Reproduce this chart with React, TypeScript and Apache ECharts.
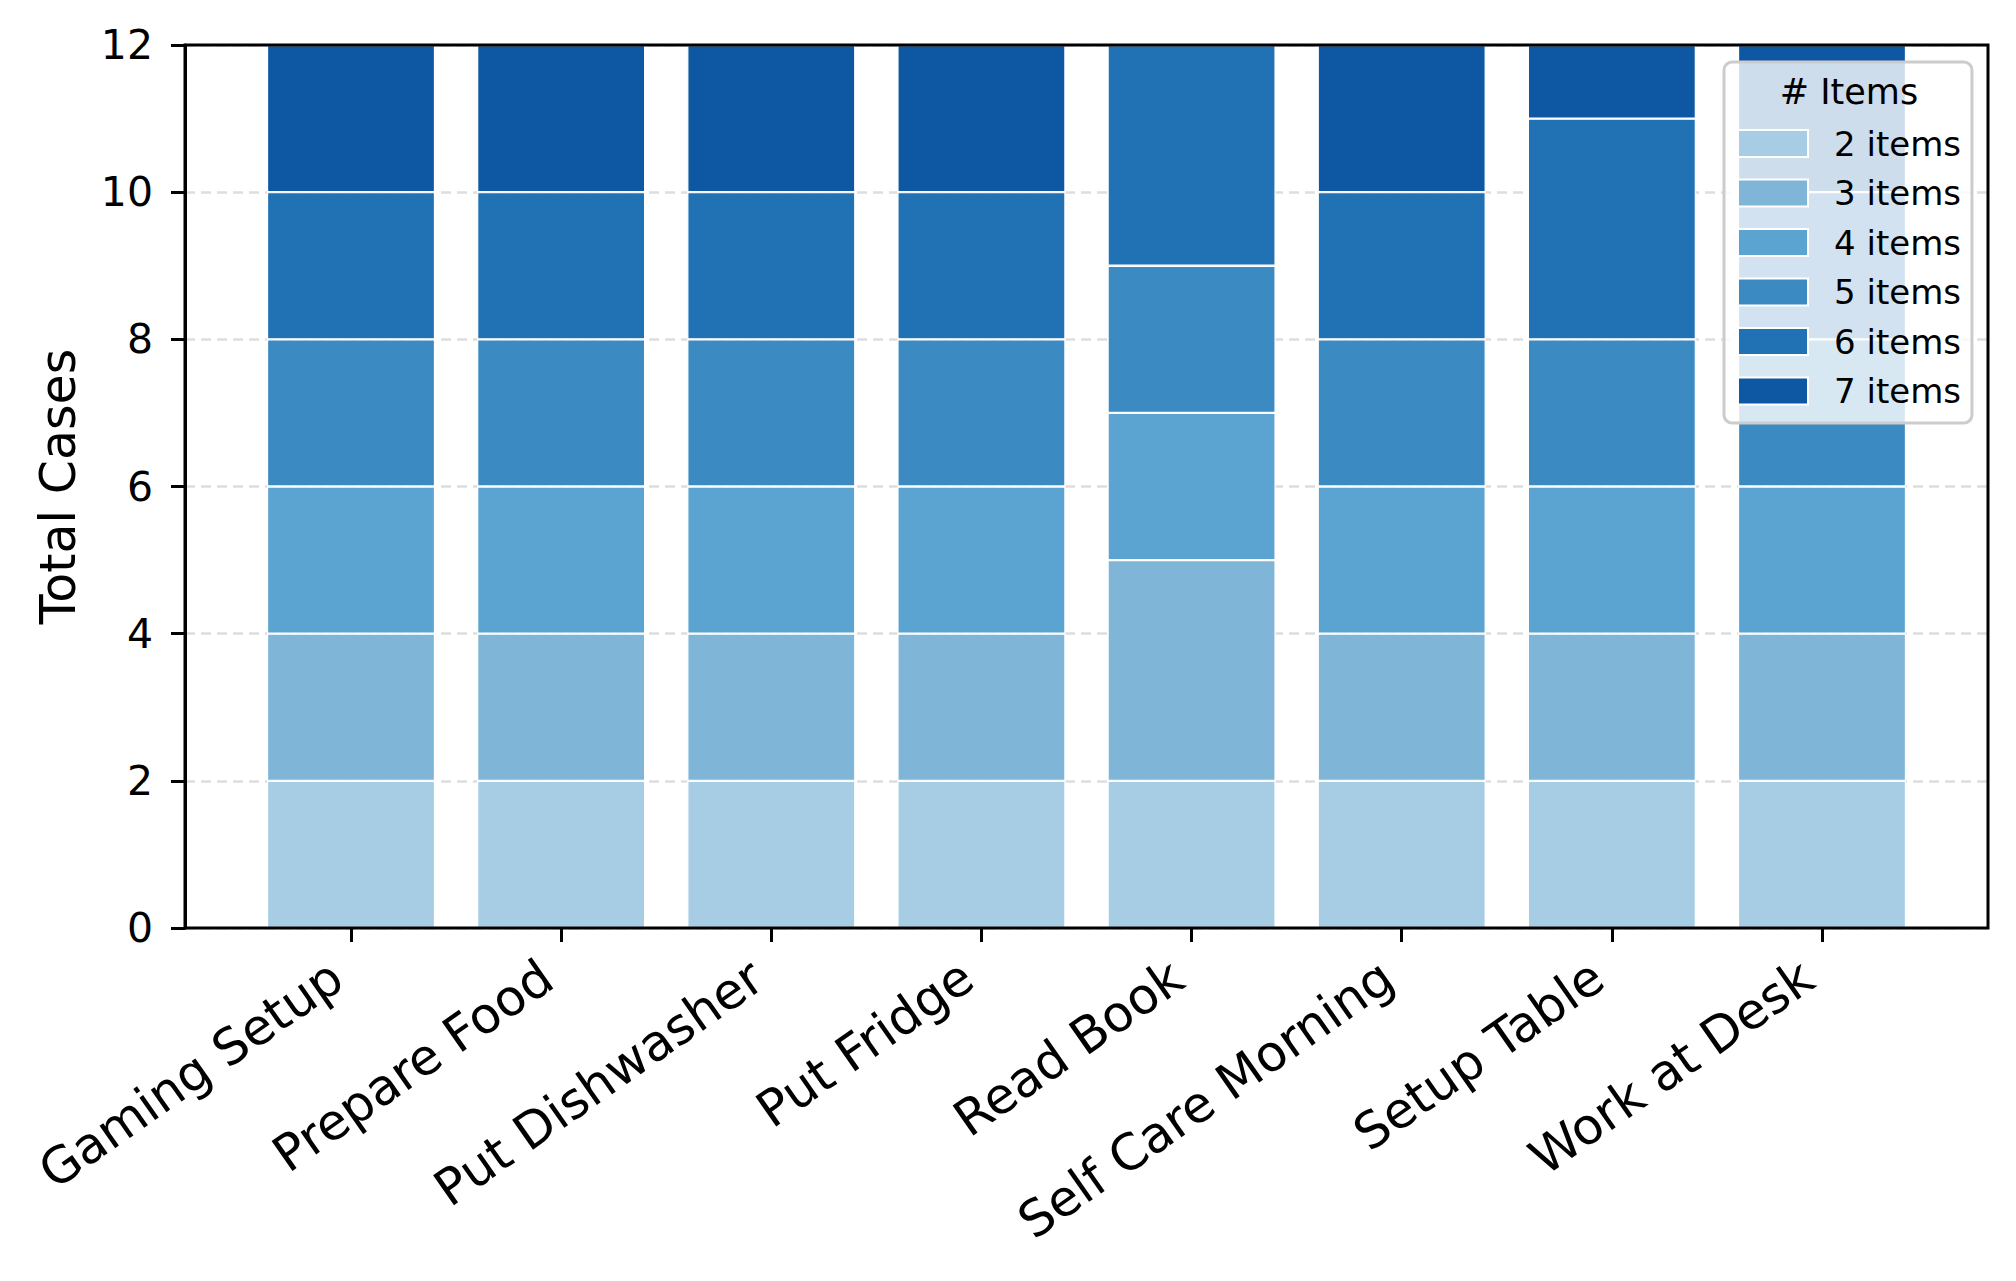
import React, { useEffect, useRef } from "react";
import * as echarts from "echarts";

const categories = [
  "Gaming Setup",
  "Prepare Food",
  "Put Dishwasher",
  "Put Fridge",
  "Read Book",
  "Self Care Morning",
  "Setup Table",
  "Work at Desk",
];
const seriesNames = ["2 items", "3 items", "4 items", "5 items", "6 items", "7 items"];
const items2 = [2, 2, 2, 2, 2, 2, 2, 2];
const items3 = [2, 2, 2, 2, 3, 2, 2, 2];
const items4 = [2, 2, 2, 2, 2, 2, 2, 2];
const items5 = [2, 2, 2, 2, 2, 2, 2, 2];
const items6 = [2, 2, 2, 2, 3, 2, 3, 2];
const items7 = [2, 2, 2, 2, 0, 2, 1, 2];
const seriesValues = [items2, items3, items4, items5, items6, items7];
const colors = ["#a6cde3", "#7fb6d8", "#5ba3d0", "#3c8ac2", "#2171b5", "#0e57a2"];
const legendTitle = "# Items";
const yAxisName = "Total Cases";

export default function App() {
  const ref = useRef<HTMLDivElement>(null);
  useEffect(() => {
    document.body.style.margin = "0";
    if (!ref.current) return;
    const chart = echarts.init(ref.current, null, { renderer: "svg" });
    const font = "DejaVu Sans";
    const W = 2016;
    const gridLeft = 185;
    const gridRight = 28;
    const gridTop = 45;
    const gridBottom = 353;
    const plotW = W - gridLeft - gridRight;
    const pad = 0.79;
    const unit = plotW / (categories.length - 1 + 2 * pad);
    const barLeft = gridLeft + (pad - 0.5) * unit;
    const barRight = W - barLeft - unit * categories.length;
    const lw = 3;
    chart.setOption({
      animation: false,
      backgroundColor: "#ffffff",
      textStyle: { fontFamily: font },
      grid: [
        {
          left: gridLeft,
          right: gridRight,
          top: gridTop,
          bottom: gridBottom,
          show: true,
          borderColor: "#000",
          borderWidth: lw,
          backgroundColor: "transparent",
          z: 3,
        },
        {
          left: barLeft,
          right: barRight,
          top: gridTop,
          bottom: gridBottom,
          show: false,
        },
      ],
      xAxis: [
        {
          gridIndex: 0,
          type: "value",
          min: 0,
          max: 1,
          show: false,
        },
        {
          gridIndex: 1,
          type: "category",
          data: categories,
          boundaryGap: true,
          axisLine: { show: false },
          axisTick: { show: true, alignWithLabel: true, length: 14, lineStyle: { color: "#000", width: lw } },
          splitLine: { show: false },
          axisLabel: {
            interval: 0,
            rotate: 35,
            fontSize: 50,
            color: "#000",
            fontFamily: font,
            margin: 34,
            padding: [0, 17, 0, 0],
          },
        },
      ],
      yAxis: [
        {
          gridIndex: 0,
          type: "value",
          min: 0,
          max: 12,
          interval: 2,
          name: yAxisName,
          nameLocation: "middle",
          nameGap: 102,
          nameTextStyle: { fontSize: 49, color: "#000", fontFamily: font },
          axisLine: { show: true, onZero: false, lineStyle: { color: "#000", width: lw } },
          axisTick: { show: true, length: 14, lineStyle: { color: "#000", width: lw } },
          axisLabel: {
            fontSize: 41,
            color: "#000",
            fontFamily: font,
            margin: 32,
          },
          splitLine: {
            show: true,
            lineStyle: { color: "#dedede", width: 2.5, type: [10, 6] },
          },
        },
        {
          gridIndex: 1,
          type: "value",
          min: 0,
          max: 12,
          show: false,
          splitLine: { show: false },
        },
      ],
      legend: {
        orient: "vertical",
        left: 1724,
        top: 62,
        padding: [64.5, 11, 15, 13],
        itemWidth: 70,
        itemHeight: 27,
        itemGap: 15.5,
        backgroundColor: "rgba(255,255,255,0.8)",
        borderColor: "#cccccc",
        borderWidth: 3,
        borderRadius: 8,
        icon: "rect",
        data: seriesNames,
        textStyle: {
          fontSize: 34,
          lineHeight: 27,
          color: "#000",
          fontFamily: font,
          padding: [0, 0, 0, 21],
        },
      },
      graphic: [
        {
          type: "text",
          x: 1849,
          y: 92,
          z: 100,
          style: {
            text: legendTitle,
            fontSize: 35,
            fill: "#000",
            fontFamily: font,
            textAlign: "center",
            textVerticalAlign: "middle",
          },
        },
      ],
      series: seriesNames.map((name, i) => ({
        name,
        type: "bar",
        stack: "total",
        xAxisIndex: 1,
        yAxisIndex: 1,
        barWidth: "80%",
        itemStyle: { color: colors[i], borderColor: "#ffffff", borderWidth: 1.2 },
        emphasis: { disabled: true },
        data: seriesValues[i],
      })),
    });
    return () => chart.dispose();
  }, []);
  return <div ref={ref} style={{ width: 2016, height: 1281 }} />;
}
